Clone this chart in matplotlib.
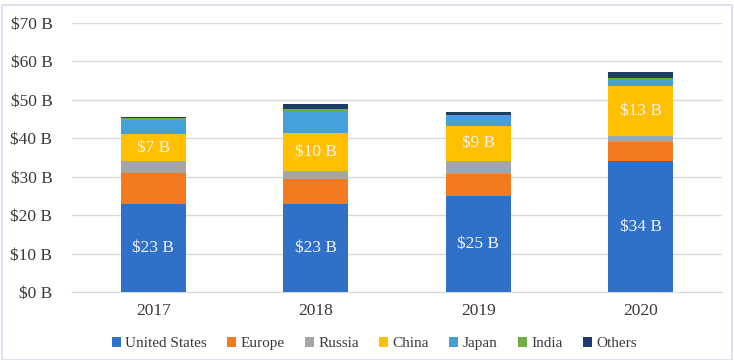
import numpy as np
import matplotlib
matplotlib.use("Agg")
import matplotlib.pyplot as plt
from matplotlib.ticker import FuncFormatter

# Valores em bilhões de dólares por ano e região
anos = ["2017", "2018", "2019", "2020"]
regioes = ["United States", "Europe", "Russia", "China", "Japan", "India", "Others"]

united_states = [23, 23, 25, 34]
europe = [8.0, 6.5, 5.8, 5.0]
russia = [3.0, 2.0, 3.4, 1.5]
china = [7, 10, 9, 13]
japan = [3.7, 5.7, 2.5, 2.0]
india = [0.6, 0.3, 0.3, 0.2]
others = [0.2, 1.3, 0.8, 1.5]

series = [united_states, europe, russia, china, japan, india, others]
cores = ["#2F70C8", "#F47A20", "#A5A5A5", "#FFC000", "#459FD8", "#70AD47", "#1F3B68"]

plt.rcParams['font.family'] = ['Liberation Serif', 'DejaVu Serif']

fig = plt.figure(figsize=(7.34, 3.6), dpi=100)
ax = fig.add_axes([0.098, 0.189, 0.886, 0.747])

x = np.arange(len(anos))
base = np.zeros(len(anos))
barras = []
for nome, valores, cor in zip(regioes, series, cores):
    b = ax.bar(x, valores, width=0.4, bottom=base, color=cor, label=nome, zorder=3)
    barras.append(b)
    base = base + np.array(valores)

# Rótulos dentro das barras de EUA e China
for idx in (0, 3):
    for rect, v in zip(barras[idx], series[idx]):
        cy = rect.get_y() + rect.get_height() / 2
        ax.text(rect.get_x() + rect.get_width() / 2, cy, f"${v:.0f} B",
                ha='center', va='center', color='#F2F2F2', fontsize=12.5, zorder=4)

ax.set_xlim(-0.5, 3.5)
ax.set_ylim(0, 70)
ax.set_yticks(range(0, 71, 10))
ax.yaxis.set_major_formatter(FuncFormatter(lambda v, p: f"${v:.0f} B"))
ax.set_xticks(x)
ax.set_xticklabels(anos)
ax.tick_params(axis='both', length=0, labelsize=12.5, colors='#3A3A3A')
ax.tick_params(axis='y', pad=14)
ax.tick_params(axis='x', pad=8)
ax.grid(axis='y', color='#D9D9D9', linewidth=1, zorder=0)
for s in ['top', 'right', 'left']:
    ax.spines[s].set_visible(False)
ax.spines['bottom'].set_color('#D9D9D9')

fig.legend(handles=barras, labels=regioes, loc='center', bbox_to_anchor=(0.51, 0.045),
           ncol=7, frameon=False, fontsize=11, handlelength=0.6, handleheight=0.6,
           handletextpad=0.3, columnspacing=1.3, labelcolor='#3A3A3A')

# Moldura fina em volta do gráfico
fig.patches.append(plt.Rectangle((0.003, 0.0), 0.994, 0.985, transform=fig.transFigure,
                                 fill=False, edgecolor='#D6DCEE', linewidth=1.2))

plt.savefig("out.png", dpi=100)
